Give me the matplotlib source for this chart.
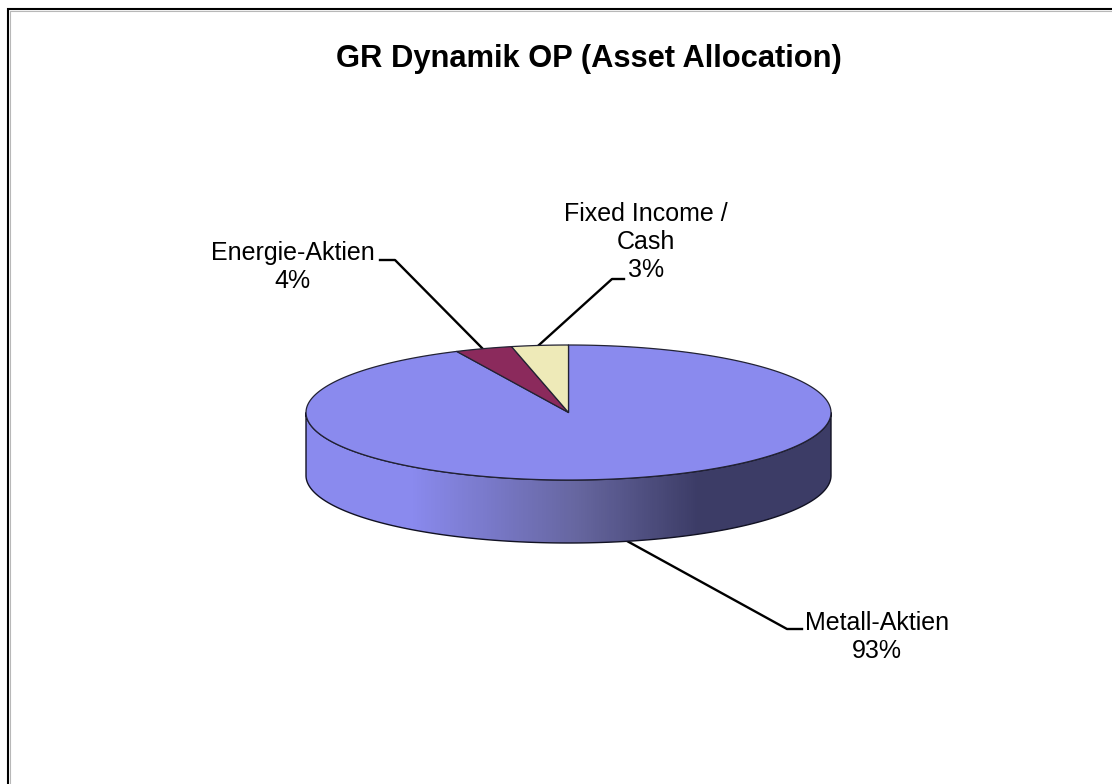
"""GR Dynamik OP asset allocation as a flat-shaded 3D pie."""

import matplotlib
matplotlib.use('Agg')
import matplotlib.pyplot as plt
import numpy as np
from matplotlib.colors import LinearSegmentedColormap
from matplotlib.patches import Polygon

plt.rcParams['font.family'] = ['Liberation Sans', 'DejaVu Sans']

TITLE = 'GR Dynamik OP (Asset Allocation)'
categories = ['Metall-Aktien', 'Energie-Aktien', 'Fixed Income /\nCash']
# the labels are rounded, the slices are drawn from the unrounded shares
shares = [93.0, 3.52, 3.48]
colors = ['#8a8aee', '#8b2a5c', '#eeeab8']

# pie geometry in image pixels
CX, CY = 568.5, 412.5
RX, RY = 262.5, 67.5
DEPTH = 63


def rim(a):
	# a = degrees clockwise from 12 o'clock
	t = np.radians(a)
	return CX + RX*np.sin(t), CY - RY*np.cos(t)


fig = plt.figure(figsize=(11.12, 7.84), dpi=100)
ax = fig.add_axes([0, 0, 1, 1])
ax.set_xlim(0, 1112)
ax.set_ylim(784, 0)
ax.axis('off')

# outer frame (only top and left show)
ax.plot([9.5, 9.5, 1112], [784, 10.5, 10.5], color='#b8b8b8', lw=0.8)
ax.plot([7.5, 7.5, 1112], [784, 8.5, 8.5], color='black', lw=1.5, solid_joinstyle='miter')

# side wall with horizontal gradient, clipped to the wall outline
t = np.radians(np.linspace(90, 270, 240))
xs = CX + RX*np.sin(t)
ys = CY - RY*np.cos(t)
wall = np.column_stack([np.r_[xs, xs[::-1]], np.r_[ys, ys[::-1] + DEPTH]])
shade = LinearSegmentedColormap.from_list('side', [(0, '#8a8aee'), (0.2, '#8a8aee'), (0.52, '#66669f'),
	(0.75, '#3c3c66'), (1, '#3c3c66')])
img = ax.imshow(np.linspace(0, 1, 525)[None, :], cmap=shade, aspect='auto',
	extent=[CX-RX, CX+RX, CY+RY+DEPTH, CY], zorder=2)
ax.set_xlim(0, 1112)
ax.set_ylim(784, 0)
outline = Polygon(wall, closed=True, fill=False, ec='#111122', lw=1.0, zorder=3)
ax.add_patch(outline)
img.set_clip_path(outline)

# top face, wedges clockwise from 12 o'clock
start = 0
for share, color in zip(shares, colors):
	end = start + share*3.6
	a = np.linspace(start, end, 300)
	px, py = rim(a)
	pts = np.column_stack([np.r_[CX, px], np.r_[CY, py]])
	ax.add_patch(Polygon(pts, closed=True, fc=color, ec='#222233', lw=0.9, joinstyle='round', zorder=4))
	start = end

# leader lines
ax.plot([627, 787, 802], [541, 629, 629], color='black', lw=1.7, zorder=1)
ax.plot([482, 395, 380], [348, 260, 260], color='black', lw=1.7, zorder=1)
ax.plot([539, 612, 624], [345, 279, 279], color='black', lw=1.7, zorder=1)

# labels
fs = 18
ax.text(877, 637, f'{categories[0]}\n{shares[0]:.0f}%', ha='center', va='center', fontsize=fs, linespacing=1.2)
ax.text(292.5, 267, f'{categories[1]}\n{shares[1]:.0f}%', ha='center', va='center', fontsize=fs, linespacing=1.2)
ax.text(646, 242, f'{categories[2]}\n{shares[2]:.0f}%', ha='center', va='center', fontsize=fs, linespacing=1.2)
ax.text(588.5, 59, TITLE, ha='center', va='center', fontsize=22.2, fontweight='bold')

fig.savefig('out.png', dpi=100)
